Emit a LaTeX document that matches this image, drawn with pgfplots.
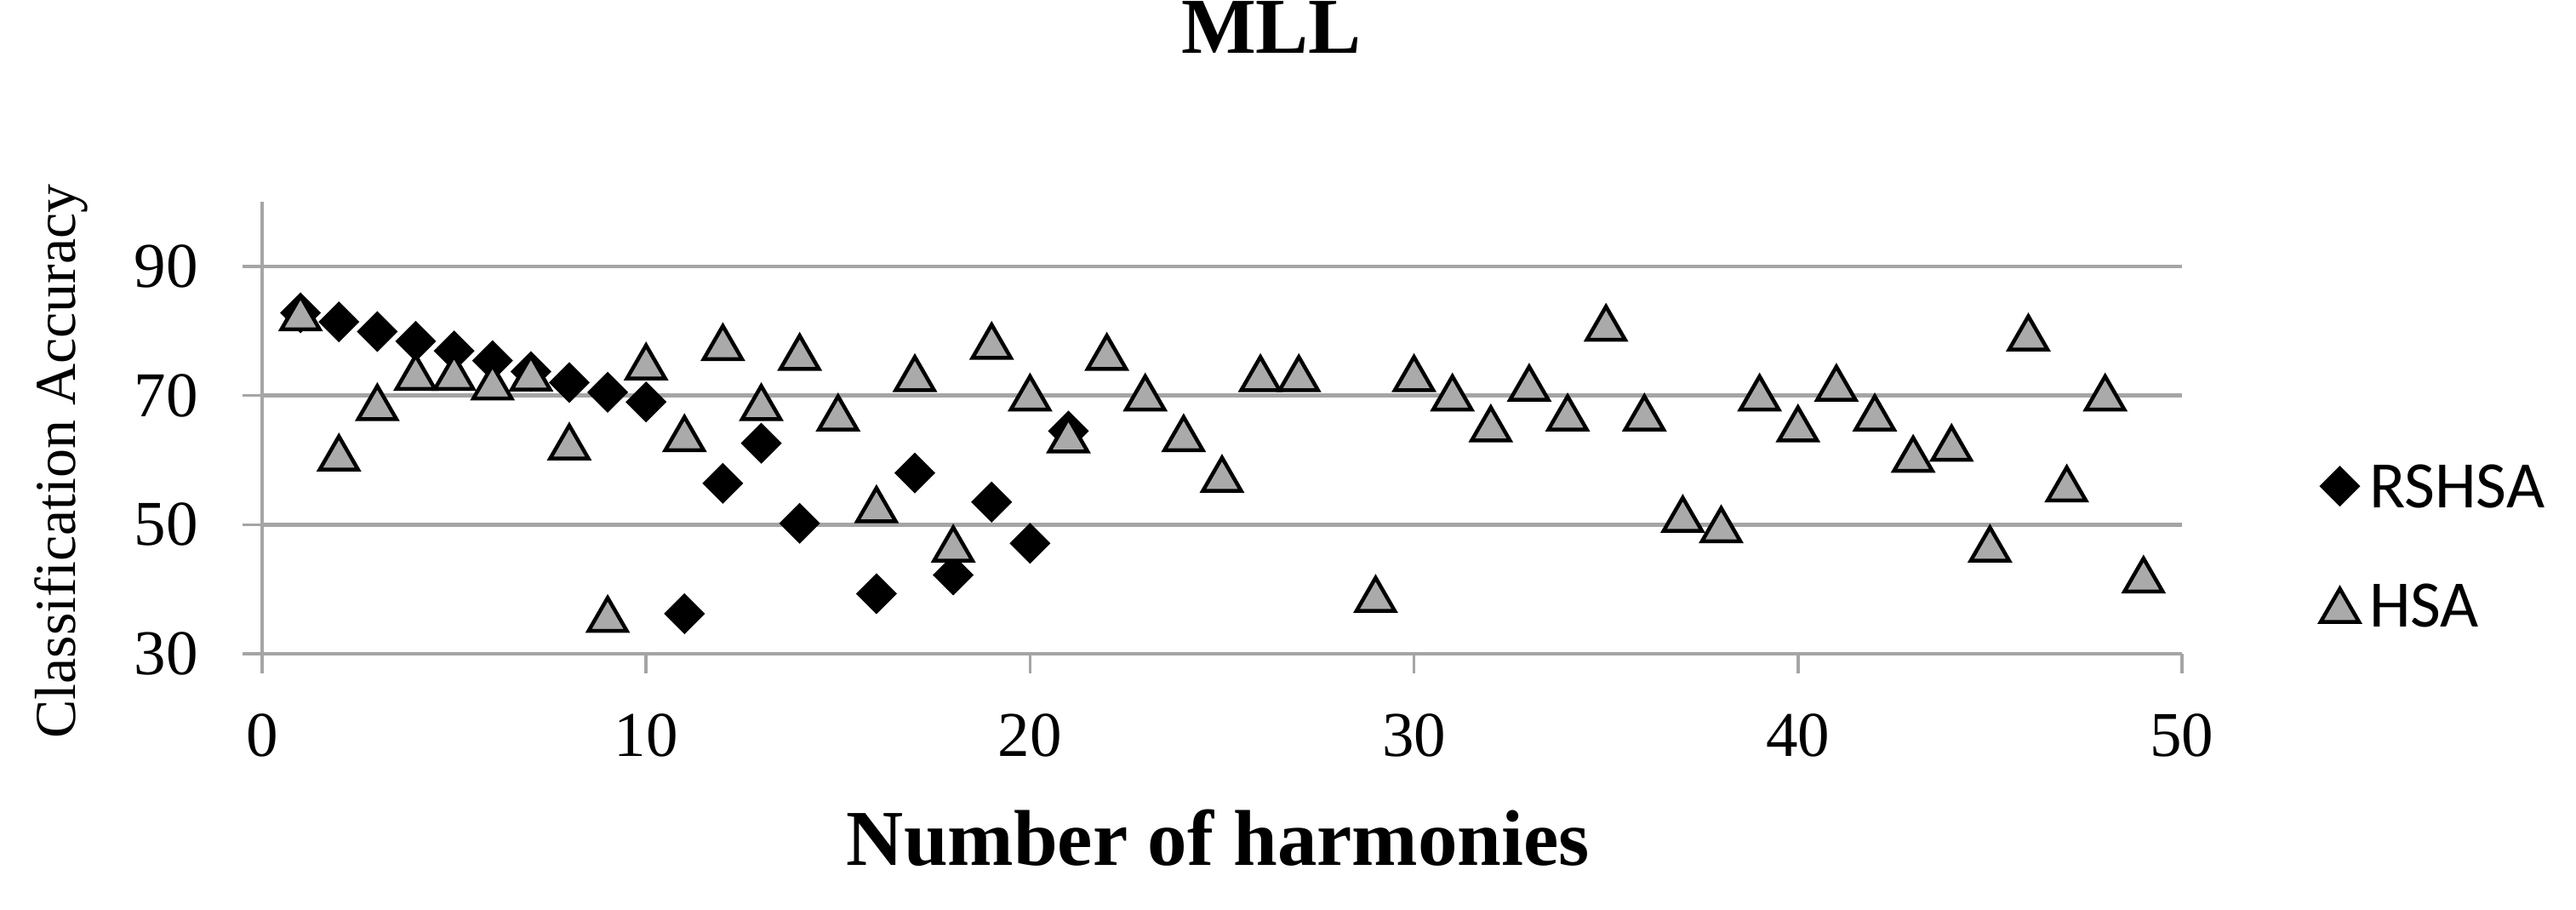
\documentclass[border=0pt]{standalone}
\usepackage{fontspec}
\setmainfont{Liberation Serif}
\newfontfamily\calibri{Carlito}
\usepackage{pgfplots}
\pgfplotsset{compat=1.18}
\definecolor{gridgray}{RGB}{165,165,165}
\definecolor{trigray}{RGB}{170,170,170}

\begin{document}
\begin{tikzpicture}
\path[use as bounding box] (-30.8pt,-30.1pt) rectangle (271.9pt,76.8pt);
\begin{axis}[
  at={(0,0)}, anchor=south west,
  scale only axis, width=225.6pt, height=53.1pt,
  xmin=0, xmax=50, ymin=30, ymax=100,
  xtick={0,10,...,50}, ytick={30,50,70,90},
  axis lines=left,
  axis line style={-, draw=gridgray, line width=0.45pt},
  ymajorgrids, grid style={draw=gridgray, line width=0.45pt},
  tick style={draw=gridgray, line width=0.35pt},
  tick align=outside, major tick length=2.3pt,
  /pgf/number format/assume math mode=true,
  ticklabel style={font=\fontsize{7.5}{9}\selectfont},
  yticklabel style={anchor=east, inner sep=0pt, xshift=-5pt},
  xticklabel style={anchor=base, inner sep=0pt, yshift=-9.8pt},
  title={MLL},
  title style={at={(axis description cs:0.5257,1)}, anchor=base, yshift=11.5pt,
    inner sep=0pt, font=\fontsize{9.3}{11}\selectfont\bfseries},
  xlabel={Number of harmonies},
  xlabel style={at={(axis description cs:0.498,0)}, anchor=base, yshift=-24.9pt,
    inner sep=0pt, font=\fontsize{9.3}{11}\selectfont\bfseries},
  ylabel={Classification Accuracy},
  ylabel style={at={(axis description cs:-0.0975,0.426)}, anchor=base,
    inner sep=0pt, font=\fontsize{6.8}{8}\selectfont},
  legend style={at={(axis description cs:1.0714,0.239)}, anchor=west,
    draw=none, fill=none, inner sep=0pt, row sep=9pt, column sep=1.2pt,
    font=\calibri\fontsize{7.8}{9}\selectfont,
    nodes={inner sep=0pt, text height=5pt, text depth=0pt}},
  legend image code/.code={\draw[#1] plot coordinates {(0pt,0pt)};},
  legend cell align=left,
]
% RSHSA
\addplot[only marks, mark=square*, mark size=1.5pt,
  mark options={rotate=45, fill=black, draw=black}] coordinates {
  (1,82.8) (2,81.4) (3,79.9) (4,78.4) (5,76.9) (6,75.4) (7,73.7)
  (8,72.0) (9,70.5) (10,69.0) (11,36.2) (12,56.4) (13,62.6) (14,50.2)
  (16,39.3) (17,58.0) (18,42.2) (19,53.5) (20,47.1) (21,64.5)
};
\addlegendentry{RSHSA}
% HSA
\addplot[only marks, mark=triangle*, mark size=2.6pt,
  mark options={fill=trigray, draw=black, line width=0.45pt, yshift=-0.65pt}] coordinates {
  (1,82.8) (2,61.1) (3,68.9) (4,73.6) (5,73.6) (6,72.1) (7,73.5)
  (8,62.8) (9,36.1) (10,75.2) (11,64.1) (12,78.2) (13,68.9) (14,76.7)
  (15,67.3) (16,53.1) (17,73.4) (18,47.0) (19,78.4) (20,70.4) (21,63.9)
  (22,76.7) (23,70.4) (24,64.1) (25,57.8) (26,73.4) (27,73.4) (29,39.2)
  (30,73.4) (31,70.4) (32,65.6) (33,71.9) (34,67.3) (35,81.2) (36,67.3)
  (37,51.6) (38,50.0) (39,70.4) (40,65.6) (41,71.9) (42,67.3) (43,60.9)
  (44,62.6) (45,47.0) (46,79.7) (47,56.3) (48,70.4) (49,42.2)
};
\addlegendentry{HSA}
\end{axis}
\end{tikzpicture}
\end{document}
